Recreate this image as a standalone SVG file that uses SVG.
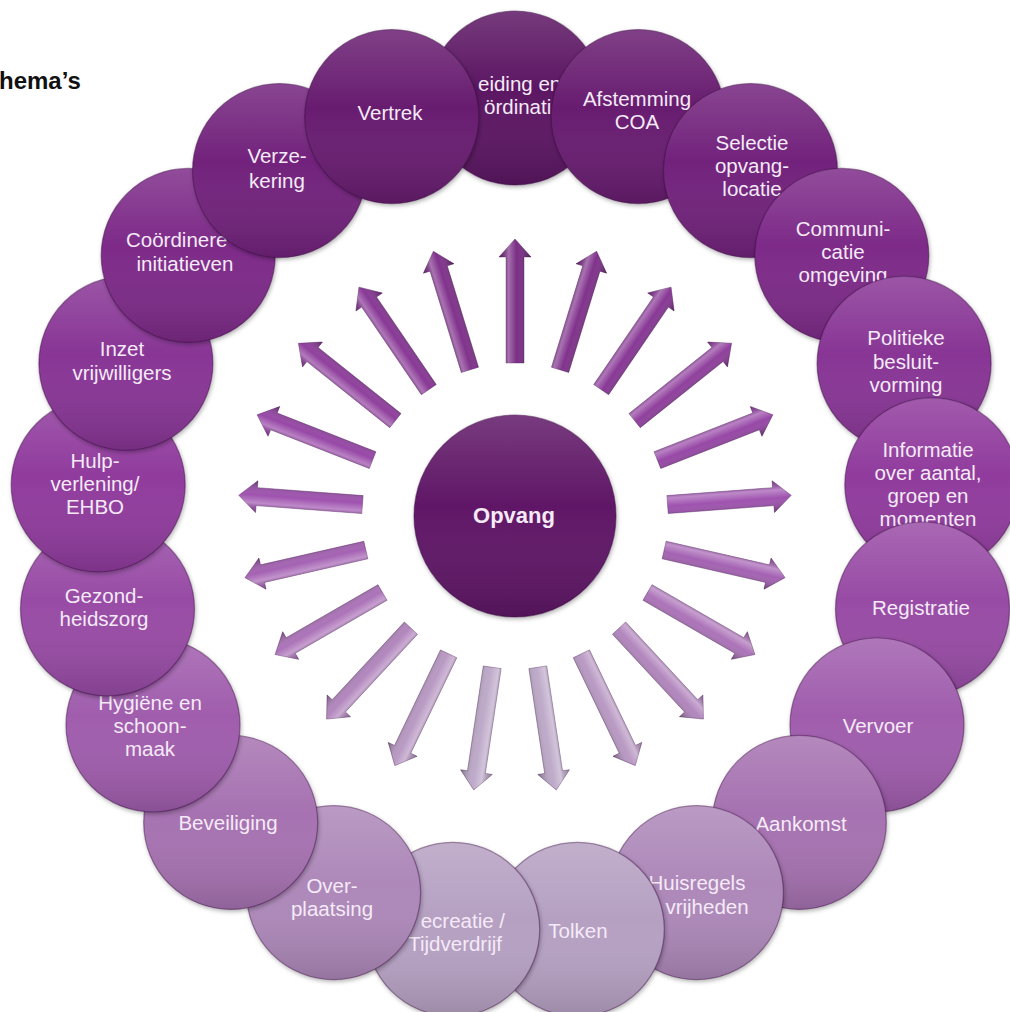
<svg xmlns="http://www.w3.org/2000/svg" xmlns:xlink="http://www.w3.org/1999/xlink" width="1010" height="1012" viewBox="0 0 1010 1012">
<style>
.node text{font-family:"Liberation Sans",Arial,sans-serif;font-size:20.5px;fill:#f5eaf7;text-anchor:middle}
.node .ring{stroke:#3a0a40;stroke-opacity:.45;stroke-width:1.2;filter:url(#shadow)}
.shade{fill:url(#cshade)}
.arr{stroke:#3a0a45;stroke-opacity:.45;stroke-width:.8}
.ashade{fill:url(#ashade)}
.title{font-family:"Liberation Sans",Arial,sans-serif;font-size:24px;font-weight:bold;fill:#111}
</style>
<defs>
<filter id="shadow" x="-20%" y="-20%" width="140%" height="140%">
<feDropShadow dx="1" dy="2" stdDeviation="2" flood-color="#000" flood-opacity="0.3"/>
</filter>
<linearGradient id="cshade" x1="0" y1="0" x2="0" y2="1">
<stop offset="0" stop-color="#fff" stop-opacity="0.16"/>
<stop offset="0.45" stop-color="#fff" stop-opacity="0"/>
<stop offset="1" stop-color="#000" stop-opacity="0.14"/>
</linearGradient>
<linearGradient id="ashade" x1="0" y1="0" x2="0" y2="1">
<stop offset="0" stop-color="#000" stop-opacity="0.15"/>
<stop offset="0.3" stop-color="#fff" stop-opacity="0.35"/>
<stop offset="0.55" stop-color="#fff" stop-opacity="0.05"/>
<stop offset="1" stop-color="#000" stop-opacity="0.35"/>
</linearGradient>
<polygon id="arrow" points="153,-9 259,-9 259,-16 277,0 259,16 259,9 153,9"/>
<circle id="disc" cx="0" cy="0" r="87"/>
</defs>
<rect width="1010" height="1012" fill="#fff"/>
<text class="title" x="-1" y="89">hema’s</text>

<g id="connectors">
<g transform="translate(515,516) rotate(-90)"><use href="#arrow" class="arr" fill="#74237f"/><use href="#arrow" class="ashade"/></g>
<g transform="translate(515,516) rotate(-72.857)"><use href="#arrow" class="arr" fill="#7a2886"/><use href="#arrow" class="ashade"/></g>
<g transform="translate(515,516) rotate(-55.714)"><use href="#arrow" class="arr" fill="#822e90"/><use href="#arrow" class="ashade"/></g>
<g transform="translate(515,516) rotate(-38.571)"><use href="#arrow" class="arr" fill="#8a3698"/><use href="#arrow" class="ashade"/></g>
<g transform="translate(515,516) rotate(-21.429)"><use href="#arrow" class="arr" fill="#923ea2"/><use href="#arrow" class="ashade"/></g>
<g transform="translate(515,516) rotate(-4.286)"><use href="#arrow" class="arr" fill="#9a4aab"/><use href="#arrow" class="ashade"/></g>
<g transform="translate(515,516) rotate(12.857)"><use href="#arrow" class="arr" fill="#a05aaf"/><use href="#arrow" class="ashade"/></g>
<g transform="translate(515,516) rotate(30)"><use href="#arrow" class="arr" fill="#a86cb5"/><use href="#arrow" class="ashade"/></g>
<g transform="translate(515,516) rotate(47.143)"><use href="#arrow" class="arr" fill="#ae80ba"/><use href="#arrow" class="ashade"/></g>
<g transform="translate(515,516) rotate(64.286)"><use href="#arrow" class="arr" fill="#b594c0"/><use href="#arrow" class="ashade"/></g>
<g transform="translate(515,516) rotate(81.429)"><use href="#arrow" class="arr" fill="#baa5c6"/><use href="#arrow" class="ashade"/></g>
<g transform="translate(515,516) rotate(98.571)"><use href="#arrow" class="arr" fill="#baa5c6"/><use href="#arrow" class="ashade"/></g>
<g transform="translate(515,516) rotate(115.714)"><use href="#arrow" class="arr" fill="#b594c0"/><use href="#arrow" class="ashade"/></g>
<g transform="translate(515,516) rotate(132.857)"><use href="#arrow" class="arr" fill="#ae80ba"/><use href="#arrow" class="ashade"/></g>
<g transform="translate(515,516) rotate(150)"><use href="#arrow" class="arr" fill="#a86cb5"/><use href="#arrow" class="ashade"/></g>
<g transform="translate(515,516) rotate(167.143)"><use href="#arrow" class="arr" fill="#a05aaf"/><use href="#arrow" class="ashade"/></g>
<g transform="translate(515,516) rotate(184.286)"><use href="#arrow" class="arr" fill="#9a4aab"/><use href="#arrow" class="ashade"/></g>
<g transform="translate(515,516) rotate(201.429)"><use href="#arrow" class="arr" fill="#923ea2"/><use href="#arrow" class="ashade"/></g>
<g transform="translate(515,516) rotate(218.571)"><use href="#arrow" class="arr" fill="#8a3698"/><use href="#arrow" class="ashade"/></g>
<g transform="translate(515,516) rotate(235.714)"><use href="#arrow" class="arr" fill="#822e90"/><use href="#arrow" class="ashade"/></g>
<g transform="translate(515,516) rotate(252.857)"><use href="#arrow" class="arr" fill="#7a2886"/><use href="#arrow" class="ashade"/></g>
</g>

<g id="opvang" class="node">
<circle class="ring" cx="515" cy="516" r="101" fill="#5e1466"/>
<circle class="shade" cx="515" cy="516" r="101"/>
<text x="514" y="523" style="font-size:22px;font-weight:bold">Opvang</text>
</g>

<g id="leiding" class="node">
<use href="#disc" class="ring" x="515" y="98" fill="#5c1563"/><use href="#disc" class="shade" x="515" y="98"/>
<text x="478" y="91" style="text-anchor:start">eiding en</text>
<text x="484" y="114" style="text-anchor:start">ördinati</text>
</g>
<g id="afstemming" class="node">
<use href="#disc" class="ring" x="638.2" y="116.6" fill="#681d70"/><use href="#disc" class="shade" x="638.2" y="116.6"/>
<text x="637" y="106">Afstemming</text>
<text x="637" y="129">COA</text>
</g>
<g id="selectie" class="node">
<use href="#disc" class="ring" x="750.5" y="170.6" fill="#72237c"/><use href="#disc" class="shade" x="750.5" y="170.6"/>
<text x="752" y="149.5">Selectie</text>
<text x="752" y="172.5">opvang-</text>
<text x="752" y="195.5">locatie</text>
</g>
<g id="communicatie" class="node">
<use href="#disc" class="ring" x="841.8" y="255.4" fill="#7d2988"/><use href="#disc" class="shade" x="841.8" y="255.4"/>
<text x="843" y="235.5">Communi-</text>
<text x="843" y="258.5">catie</text>
<text x="843" y="281.5">omgeving</text>
</g>
<g id="politieke" class="node">
<use href="#disc" class="ring" x="904.1" y="363.3" fill="#883495"/><use href="#disc" class="shade" x="904.1" y="363.3"/>
<text x="906" y="345">Politieke</text>
<text x="906" y="368.5">besluit-</text>
<text x="906" y="392">vorming</text>
</g>
<g id="informatie" class="node">
<use href="#disc" class="ring" x="931.8" y="484.8" fill="#903b9d"/><use href="#disc" class="shade" x="931.8" y="484.8"/>
<text x="928" y="457">Informatie</text>
<text x="928" y="480">over aantal,</text>
<text x="928" y="503">groep en</text>
<text x="928" y="526">momenten</text>
</g>
<g id="registratie" class="node">
<use href="#disc" class="ring" x="922.5" y="609" fill="#984ba5"/><use href="#disc" class="shade" x="922.5" y="609"/>
<text x="921" y="614.5">Registratie</text>
</g>
<g id="vervoer" class="node">
<use href="#disc" class="ring" x="877" y="725" fill="#a05dad"/><use href="#disc" class="shade" x="877" y="725"/>
<text x="878" y="732.5">Vervoer</text>
</g>
<g id="aankomst" class="node">
<use href="#disc" class="ring" x="799.3" y="822.4" fill="#a672b1"/><use href="#disc" class="shade" x="799.3" y="822.4"/>
<text x="801" y="830.5">Aankomst</text>
</g>
<g id="huisregels" class="node">
<use href="#disc" class="ring" x="696.4" y="892.6" fill="#ad88b9"/><use href="#disc" class="shade" x="696.4" y="892.6"/>
<text x="697" y="889.5">Huisregels</text>
<text x="707" y="914">vrijheden</text>
</g>
<g id="tolken" class="node">
<use href="#disc" class="ring" x="577.3" y="929.3" fill="#b5a0c2"/><use href="#disc" class="shade" x="577.3" y="929.3"/>
<text x="578" y="937.5">Tolken</text>
</g>
<g id="recreatie" class="node">
<use href="#disc" class="ring" x="452.7" y="929.3" fill="#b5a0c2"/><use href="#disc" class="shade" x="452.7" y="929.3"/>
<text x="505" y="927.5" style="text-anchor:end">ecreatie /</text>
<text x="502" y="950.5" style="text-anchor:end">Tijdverdrijf</text>
</g>
<g id="overplaatsing" class="node">
<use href="#disc" class="ring" x="333.6" y="892.6" fill="#ad88b9"/><use href="#disc" class="shade" x="333.6" y="892.6"/>
<text x="332" y="892.5">Over-</text>
<text x="332" y="915.5">plaatsing</text>
</g>
<g id="beveiliging" class="node">
<use href="#disc" class="ring" x="230.7" y="822.4" fill="#a672b1"/><use href="#disc" class="shade" x="230.7" y="822.4"/>
<text x="228" y="829.5">Beveiliging</text>
</g>
<g id="hygiene" class="node">
<use href="#disc" class="ring" x="153" y="725" fill="#a05dad"/><use href="#disc" class="shade" x="153" y="725"/>
<text x="150" y="709.5">Hygiëne  en</text>
<text x="150" y="733">schoon-</text>
<text x="150" y="756">maak</text>
</g>
<g id="gezondheidszorg" class="node">
<use href="#disc" class="ring" x="107.5" y="609" fill="#984ba5"/><use href="#disc" class="shade" x="107.5" y="609"/>
<text x="104" y="602.5">Gezond-</text>
<text x="104" y="625.5">heidszorg</text>
</g>
<g id="hulpverlening" class="node">
<use href="#disc" class="ring" x="98.2" y="484.8" fill="#903b9d"/><use href="#disc" class="shade" x="98.2" y="484.8"/>
<text x="95" y="467.5">Hulp-</text>
<text x="95" y="490.5">verlening/</text>
<text x="95" y="513.5">EHBO</text>
</g>
<g id="inzet" class="node">
<use href="#disc" class="ring" x="125.9" y="363.3" fill="#883495"/><use href="#disc" class="shade" x="125.9" y="363.3"/>
<text x="122" y="355.5">Inzet</text>
<text x="122" y="379.5">vrijwilligers</text>
</g>
<g id="coordineren" class="node">
<use href="#disc" class="ring" x="188.2" y="255.4" fill="#7d2988"/><use href="#disc" class="shade" x="188.2" y="255.4"/>
<text x="126" y="246.5" style="text-anchor:start">Coördinere</text>
<text x="185" y="270.5">initiatieven</text>
</g>
<g id="verzekering" class="node">
<use href="#disc" class="ring" x="279.5" y="170.6" fill="#72237c"/><use href="#disc" class="shade" x="279.5" y="170.6"/>
<text x="277" y="162.5">Verze-</text>
<text x="277" y="187.5">kering</text>
</g>
<g id="vertrek" class="node">
<use href="#disc" class="ring" x="391.8" y="116.6" fill="#681d70"/><use href="#disc" class="shade" x="391.8" y="116.6"/>
<text x="390" y="119.5">Vertrek</text>
</g>
</svg>
